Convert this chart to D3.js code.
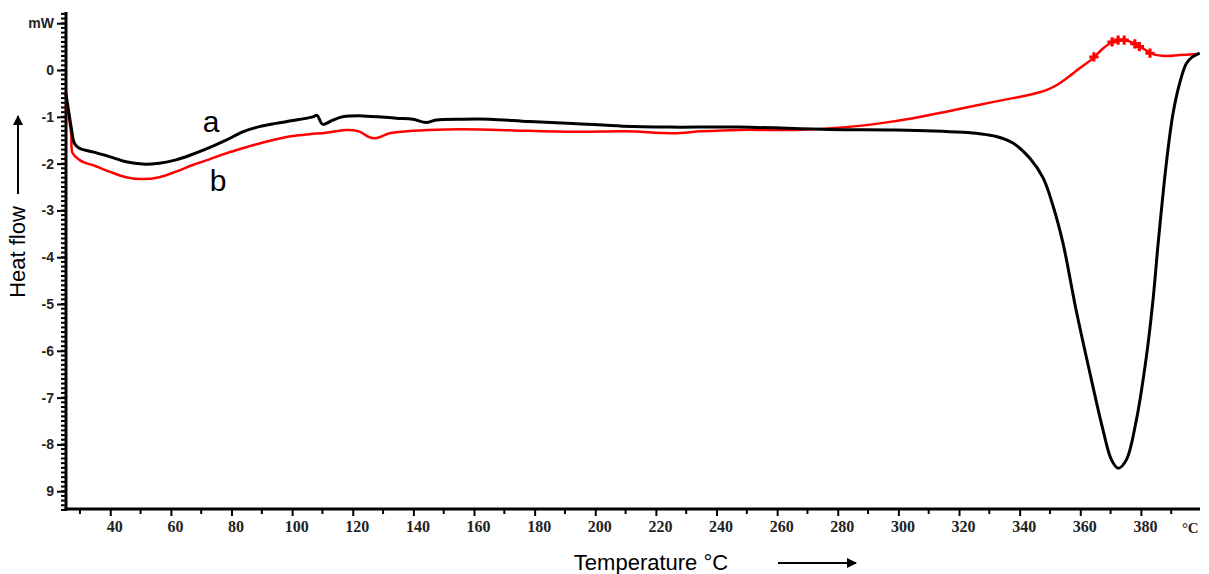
<!DOCTYPE html>
<html>
<head>
<meta charset="utf-8">
<script src="https://cdn.jsdelivr.net/npm/d3@7"></script>
<style>
  body { margin: 0; background: #fff; }
  svg { display: block; }
</style>
</head>
<body>
<div id="main"></div>
<script>
// curve a (black), temperature °C / heat flow mW
const tempA = [25.3, 26.2, 27.1, 28.2, 29.8, 34.2, 39.7, 45.2, 50.7, 56.2, 61.7, 67.2, 72.7, 78.2, 83.7, 89.2, 94.7, 100.2, 106.8, 108.2, 110.1, 113.4, 116.7, 123.3, 134.3, 139.8, 144.2, 147.5, 156.3, 165.1, 178.3, 192.6, 209.1, 224.5, 247.6, 277.3, 299.3, 321.3, 326.8, 332.3, 337.8, 343.3, 347.7, 351, 354.3, 358.7, 363.1, 367.5, 370.3, 372.5, 375.2, 378.5, 381.8, 384, 385.7, 388.4, 390.6, 392.8, 395, 397, 399.4];
const flowA = [-0.48, -0.85, -1.22, -1.57, -1.67, -1.75, -1.85, -1.96, -2.01, -1.99, -1.92, -1.80, -1.66, -1.50, -1.32, -1.21, -1.14, -1.08, -1.0, -0.97, -1.16, -1.07, -1.0, -0.98, -1.03, -1.05, -1.12, -1.07, -1.05, -1.05, -1.10, -1.14, -1.20, -1.22, -1.22, -1.27, -1.28, -1.33, -1.36, -1.42, -1.56, -1.88, -2.30, -2.90, -3.70, -5.15, -6.45, -7.69, -8.33, -8.51, -8.33, -7.48, -6.13, -4.91, -3.70, -1.99, -0.93, -0.28, 0.14, 0.28, 0.36];

// curve b (red)
const tempB = [25.3, 26.2, 27.1, 27.6, 29.8, 32, 34.2, 39.7, 45.2, 50.7, 56.2, 61.7, 67.2, 72.7, 78.2, 83.7, 89.2, 94.7, 100.2, 105.7, 111.2, 117.8, 122, 125, 127.2, 129.5, 132.1, 139.8, 150.8, 161.8, 178, 195, 210, 225.6, 235, 247.6, 266.3, 282.8, 293.8, 304.8, 315.8, 326.8, 337.8, 343.3, 348.8, 352, 355.4, 359.8, 364.2, 367.5, 370.8, 374.1, 377.4, 380.7, 384, 388.4, 392.8, 398.3];
const flowB = [-0.48, -0.95, -1.35, -1.78, -1.92, -1.99, -2.03, -2.17, -2.29, -2.33, -2.29, -2.17, -2.03, -1.91, -1.78, -1.67, -1.57, -1.48, -1.41, -1.37, -1.34, -1.28, -1.31, -1.42, -1.46, -1.42, -1.35, -1.30, -1.27, -1.27, -1.30, -1.32, -1.31, -1.35, -1.31, -1.28, -1.28, -1.22, -1.14, -1.03, -0.89, -0.74, -0.60, -0.53, -0.43, -0.33, -0.18, 0.04, 0.25, 0.46, 0.60, 0.64, 0.58, 0.46, 0.34, 0.30, 0.32, 0.34];

// small cross markers sitting on curve b near its peak
const markT = [364.5, 370.5, 372.5, 374.5, 378, 379.5, 383];
const markV = [0.28, 0.6, 0.64, 0.64, 0.56, 0.5, 0.36];

const xTicks = [40, 60, 80, 100, 120, 140, 160, 180, 200, 220, 240, 260, 280, 300, 320, 340, 360, 380];
const xMinor = [30, 50, 70, 90, 110, 130, 150, 170, 190, 210, 230, 250, 270, 290, 310, 330, 350, 370, 390];
const yTicks = [1, 0, -1, -2, -3, -4, -5, -6, -7, -8, -9];
const yTickLabels = ["mW", "0", "-1", "-2", "-3", "-4", "-5", "-6", "-7", "-8", "9"];

const width = 1209;
const height = 574;

const x = d3.scaleLinear().domain([25.4, 399.5]).range([66, 1200]);
const y = d3.scaleLinear().domain([1.24, -9.38]).range([12, 509]);

const svg = d3.select("#main")
  .append("svg")
  .attr("width", width)
  .attr("height", height);

svg.append("defs").append("marker")
  .attr("id", "arrow")
  .attr("viewBox", "0 0 10 10")
  .attr("refX", 9)
  .attr("refY", 5)
  .attr("markerWidth", 10)
  .attr("markerHeight", 10)
  .attr("markerUnits", "userSpaceOnUse")
  .attr("orient", "auto")
  .append("path")
  .attr("d", "M0,0L10,5L0,10z")
  .attr("fill", "#000");

// minor ticks
const yMinor = d3.range(-94, 13).map(d => d / 10);

const yAxis = d3.axisLeft(y)
  .tickValues(yTicks)
  .tickSize(9)
  .tickPadding(3)
  .tickFormat((d, i) => yTickLabels[i]);

const gy = svg.append("g")
  .attr("transform", "translate(" + x.range()[0] + ",0)");

gy.selectAll("line.minor")
  .data(yMinor)
  .enter()
  .append("line")
  .attr("class", "minor")
  .attr("x1", -5)
  .attr("x2", 1)
  .attr("y1", d => y(d))
  .attr("y2", d => y(d))
  .attr("stroke", "#000")
  .attr("stroke-width", 2);

gy.call(yAxis);
gy.select(".domain").remove();
gy.append("line")
  .attr("x1", 0).attr("x2", 0)
  .attr("y1", y.range()[0]).attr("y2", y.range()[1] + 1.5)
  .attr("stroke", "#000")
  .attr("stroke-width", 3);
gy.selectAll(".tick line").attr("stroke-width", 2);
gy.selectAll(".tick text")
  .style("font-family", "'Liberation Sans', Arial, sans-serif")
  .style("font-weight", "bold")
  .style("font-size", "14px")
  .attr("fill", "#222");

const xAxis = d3.axisBottom(x)
  .tickValues(xTicks)
  .tickSize(7)
  .tickPadding(5);

const gx = svg.append("g")
  .attr("transform", "translate(0," + y.range()[1] + ")");

gx.selectAll("line.minor")
  .data(xMinor)
  .enter()
  .append("line")
  .attr("class", "minor")
  .attr("x1", d => x(d))
  .attr("x2", d => x(d))
  .attr("y1", 0)
  .attr("y2", 5)
  .attr("stroke", "#000")
  .attr("stroke-width", 2);

gx.call(xAxis);
gx.select(".domain").remove();
gx.append("line")
  .attr("x1", x.range()[0] - 1.5).attr("x2", x.range()[1])
  .attr("y1", 0).attr("y2", 0)
  .attr("stroke", "#000")
  .attr("stroke-width", 3);
gx.selectAll(".tick line").attr("stroke-width", 2);
gx.selectAll(".tick text")
  .attr("dx", 4)
  .style("font-family", "'Liberation Serif', 'Times New Roman', serif")
  .style("font-weight", "bold")
  .style("font-size", "16px")
  .attr("fill", "#222");

gx.append("text")
  .attr("x", x(396.3))
  .attr("y", 24)
  .attr("text-anchor", "middle")
  .style("font-family", "'Liberation Serif', 'Times New Roman', serif")
  .style("font-weight", "bold")
  .style("font-size", "15px")
  .attr("fill", "#222")
  .text("°C");

// curves
const line = d3.line()
  .x(d => x(d[0]))
  .y(d => y(d[1]))
  .curve(d3.curveCatmullRom.alpha(0.5));

svg.append("path")
  .datum(d3.zip(tempB, flowB))
  .attr("d", line)
  .attr("fill", "none")
  .attr("stroke", "#ff0000")
  .attr("stroke-width", 2.5)
  .attr("stroke-linejoin", "round");

svg.selectAll("path.mark")
  .data(d3.zip(markT, markV))
  .enter()
  .append("path")
  .attr("class", "mark")
  .attr("d", d3.symbol(d3.symbolCross).size(48))
  .attr("transform", d => "translate(" + x(d[0]) + "," + y(d[1]) + ")")
  .attr("fill", "#ff0000");

svg.append("path")
  .datum(d3.zip(tempA, flowA))
  .attr("d", line)
  .attr("fill", "none")
  .attr("stroke", "#000")
  .attr("stroke-width", 3)
  .attr("stroke-linejoin", "round");

// curve labels
const labelFont = "'Liberation Sans', Arial, sans-serif";
svg.append("text")
  .attr("x", 211)
  .attr("y", 132)
  .attr("text-anchor", "middle")
  .style("font-family", labelFont)
  .style("font-size", "30px")
  .text("a");
svg.append("text")
  .attr("x", 218)
  .attr("y", 191)
  .attr("text-anchor", "middle")
  .style("font-family", labelFont)
  .style("font-size", "30px")
  .text("b");

// axis titles with arrows
svg.append("text")
  .attr("transform", "translate(25,252) rotate(-90)")
  .attr("text-anchor", "middle")
  .style("font-family", labelFont)
  .style("font-size", "22px")
  .text("Heat flow");
svg.append("line")
  .attr("x1", 18).attr("x2", 18)
  .attr("y1", 194).attr("y2", 116)
  .attr("stroke", "#000")
  .attr("stroke-width", 2)
  .attr("marker-end", "url(#arrow)");

svg.append("text")
  .attr("x", 651)
  .attr("y", 570)
  .attr("text-anchor", "middle")
  .style("font-family", labelFont)
  .style("font-size", "22px")
  .text("Temperature °C");
svg.append("line")
  .attr("x1", 778).attr("x2", 856)
  .attr("y1", 563).attr("y2", 563)
  .attr("stroke", "#000")
  .attr("stroke-width", 2)
  .attr("marker-end", "url(#arrow)");
</script>
</body>
</html>
